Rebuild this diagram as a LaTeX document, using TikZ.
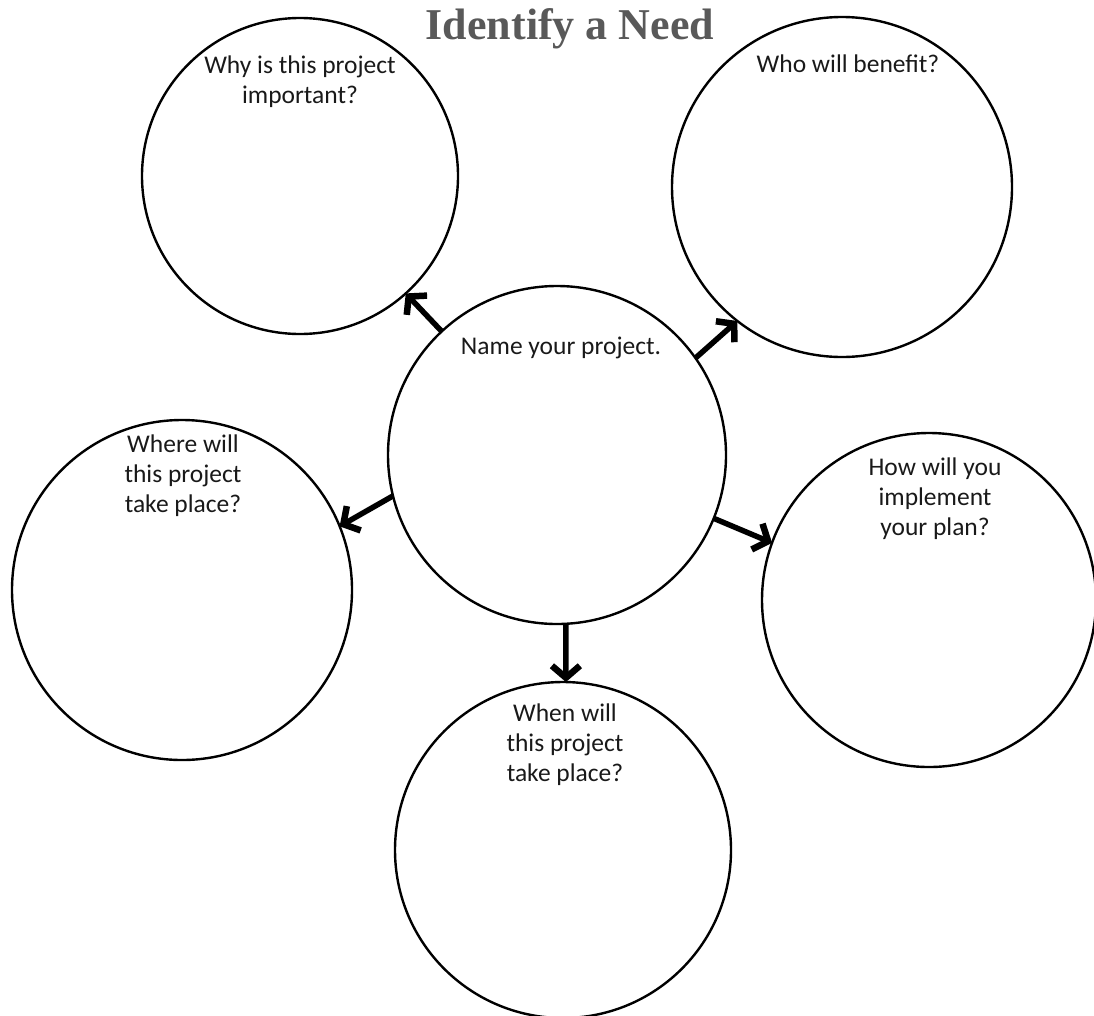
\documentclass[tikz,border=0pt]{standalone}
\usepackage{fontspec}
\setmainfont{Carlito}
\newfontfamily\needfont{Liberation Serif}
\usetikzlibrary{arrows.meta,positioning}

\tikzset{
	bubble/.style={draw,circle,line width=2.4pt,inner sep=0pt,outer sep=0pt},
	ask/.style={align=center,inner sep=0pt,font=\fontsize{25.5}{30}\selectfont,text=black!90},
	pointer/.style={line width=5.5pt,-{Straight Barb[length=12pt,width=28pt,line width=6.5pt]}}
}

\begin{document}
\begin{tikzpicture}[x=1pt,y=-1pt]
	\useasboundingbox (0,0) rectangle (1094,1015); % keeps the page size
	
	% title
	\node (title) at (570,29) {\needfont\bfseries\fontsize{44}{46}\selectfont\color{black!65}Identify a Need};
	
	% the six circles
	\node[bubble,minimum size=338pt] (name)  at (557,455) {};
	\node[bubble,minimum size=316pt] (why)   at (300,176) {};
	\node[bubble,minimum size=340pt] (who)   at (842,187) {};
	\node[bubble,minimum size=340pt] (where) at (182,590) {};
	\node[bubble,minimum size=334pt] (how)   at (929,600) {};
	\node[bubble,minimum size=336pt] (when)  at (563,850) {};
	
	% questions inside the circles
	\node[ask,below=51pt of name.north,xshift=4pt] (nametext) {Name your project.};
	\node[ask,below=38pt of why.north] (whytext) {Why is this project\\important?};
	\node[ask,below=38pt of who.north,xshift=6pt] (whotext) {Who will benefit?};
	\node[ask,below=15pt of where.north,xshift=1pt] (wheretext) {Where will\\this project\\take place?};
	\node[ask,below=25pt of how.north,xshift=6pt] (howtext) {How will you\\implement\\your plan?};
	\node[ask,below=22pt of when.north,xshift=2pt] (whentext) {When will\\this project\\take place?};
	
	% arrows out of the middle
	\draw[pointer] (name.133)   -- (why.-48.6);
	\draw[pointer] (name.35.9)  -- (who.232);
	\draw[pointer] (name.194.3) -- (where.22.6);
	\draw[pointer] (name.-22.4) -- (how.160.2);
	\draw[pointer] (name.-87.3) -- (when.89.3);
	
\end{tikzpicture}
\end{document}
